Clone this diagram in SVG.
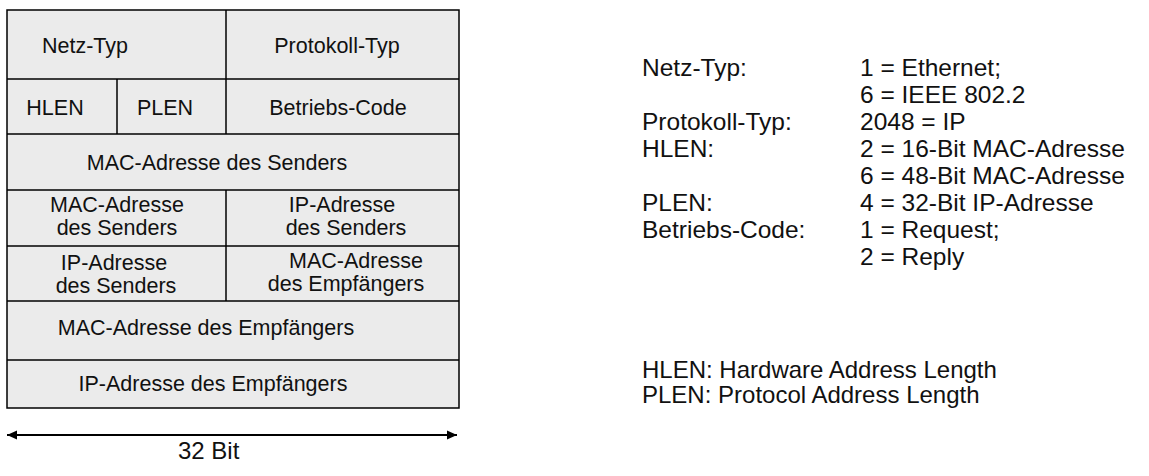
<svg xmlns="http://www.w3.org/2000/svg" width="1149" height="476" viewBox="0 0 1149 476">
<style>
.cell{fill:#ebebeb;stroke:#000;stroke-width:1.5}
.ln{stroke:#000;stroke-width:1.5;fill:none}
text{font-family:"Liberation Sans",Arial,sans-serif;fill:#111}
.b{font-size:21.5px;text-anchor:middle}
.r{font-size:24.5px}
.l{font-size:24px}
</style>
<defs>
<marker id="ah" viewBox="0 0 10 10" refX="10" refY="5" markerWidth="10" markerHeight="10" markerUnits="userSpaceOnUse" orient="auto-start-reverse">
<path d="M0,0.5 L10,5 L0,9.5 Z" fill="#000"/>
</marker>
</defs>
<g id="box">
<rect class="cell" x="7" y="10" width="452" height="398"/>
<line class="ln" x1="7" y1="79" x2="459" y2="79"/>
<line class="ln" x1="7" y1="134" x2="459" y2="134"/>
<line class="ln" x1="7" y1="190" x2="459" y2="190"/>
<line class="ln" x1="7" y1="246" x2="459" y2="246"/>
<line class="ln" x1="7" y1="301" x2="459" y2="301"/>
<line class="ln" x1="7" y1="360" x2="459" y2="360"/>
<line class="ln" x1="226" y1="10" x2="226" y2="134"/>
<line class="ln" x1="117" y1="79" x2="117" y2="134"/>
<line class="ln" x1="226" y1="190" x2="226" y2="301"/>
</g>
<g id="netz-typ"><text class="b" x="85" y="53">Netz-Typ</text></g>
<g id="protokoll-typ"><text class="b" x="337" y="53">Protokoll-Typ</text></g>
<g id="hlen"><text class="b" x="55" y="115">HLEN</text></g>
<g id="plen"><text class="b" x="165" y="115">PLEN</text></g>
<g id="betriebs-code"><text class="b" x="338" y="115">Betriebs-Code</text></g>
<g id="mac-sender"><text class="b" x="217" y="170">MAC-Adresse des Senders</text></g>
<g id="mac-sender-2"><text class="b" x="117" y="212">MAC-Adresse</text><text class="b" x="117" y="235">des Senders</text></g>
<g id="ip-sender"><text class="b" x="342" y="212">IP-Adresse</text><text class="b" x="346" y="235">des Senders</text></g>
<g id="ip-sender-2"><text class="b" x="114" y="270">IP-Adresse</text><text class="b" x="116" y="293">des Senders</text></g>
<g id="mac-empf"><text class="b" x="356" y="268">MAC-Adresse</text><text class="b" x="346" y="291">des Empfängers</text></g>
<g id="mac-empf-2"><text class="b" x="206" y="335">MAC-Adresse des Empfängers</text></g>
<g id="ip-empf"><text class="b" x="213" y="391">IP-Adresse des Empfängers</text></g>
<g id="connectors">
<line x1="7" y1="435" x2="457" y2="435" stroke="#000" stroke-width="2" marker-start="url(#ah)" marker-end="url(#ah)"/>
</g>
<g id="width-label"><text x="178" y="459" style="font-size:24px">32 Bit</text></g>
<g id="legend">
<text class="r" x="642" y="76">Netz-Typ:</text>
<text class="r" x="860" y="76">1 = Ethernet;</text>
<text class="r" x="860" y="103">6 = IEEE 802.2</text>
<text class="r" x="642" y="130">Protokoll-Typ:</text>
<text class="r" x="860" y="130">2048 = IP</text>
<text class="r" x="642" y="157">HLEN:</text>
<text class="r" x="860" y="157">2 = 16-Bit MAC-Adresse</text>
<text class="r" x="860" y="184">6 = 48-Bit MAC-Adresse</text>
<text class="r" x="642" y="211">PLEN:</text>
<text class="r" x="860" y="211">4 = 32-Bit IP-Adresse</text>
<text class="r" x="642" y="238">Betriebs-Code:</text>
<text class="r" x="860" y="238">1 = Request;</text>
<text class="r" x="860" y="265">2 = Reply</text>
<text class="l" x="642" y="378">HLEN: Hardware Address Length</text>
<text class="l" x="642" y="403">PLEN: Protocol Address Length</text>
</g>
</svg>
